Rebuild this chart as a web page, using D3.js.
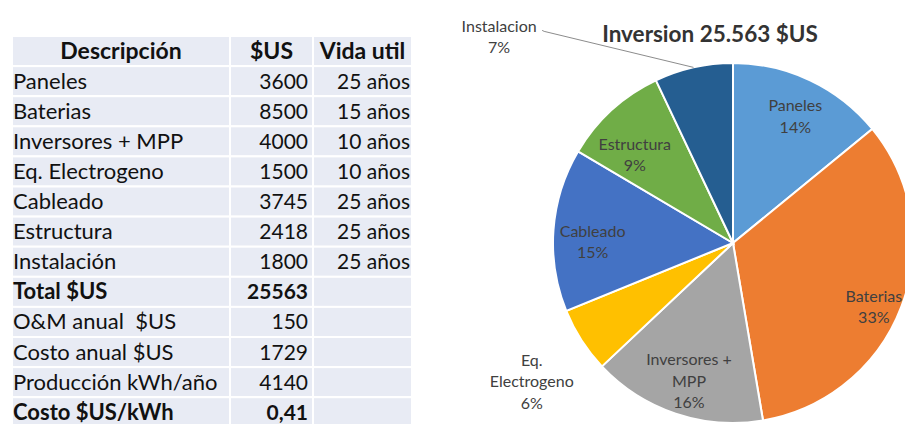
<!DOCTYPE html>
<html>
<head>
<meta charset="utf-8">
<script src="https://cdn.jsdelivr.net/npm/d3@7"></script>
<style>
  body { margin: 0; background: #fff; }
  svg { display: block; font-family: Lato, "Open Sans", sans-serif; }
</style>
</head>
<body>
<svg id="chart" width="905" height="424"></svg>
<script>
// table data
var headers = ['Descripción', '$US', 'Vida util'];
var rowLabels = ['Paneles', 'Baterias', 'Inversores + MPP', 'Eq. Electrogeno', 'Cableado', 'Estructura', 'Instalación',
  'Total $US', 'O&M anual  $US', 'Costo anual $US', 'Producción kWh/año', 'Costo $US/kWh'];
var rowValues = ['3600', '8500', '4000', '1500', '3745', '2418', '1800', '25563', '150', '1729', '4140', '0,41'];
var rowLife = ['25 años', '15 años', '10 años', '10 años', '25 años', '25 años', '25 años', '', '', '', '', ''];
var boldRows = ['Total $US', 'Costo $US/kWh'];

// pie data
var pieTitle = 'Inversion 25.563 $US';
var sliceNames = ['Paneles', 'Baterias', 'Inversores + MPP', 'Eq. Electrogeno', 'Cableado', 'Estructura', 'Instalacion'];
var sliceValues = [3600, 8500, 4000, 1500, 3745, 2418, 1800];
var sliceLabels = [['Paneles', '14%'], ['Baterias', '33%'], ['Inversores +', 'MPP', '16%'], ['Eq.', 'Electrogeno', '6%'],
  ['Cableado', '15%'], ['Estructura', '9%'], ['Instalacion', '7%']];
var sliceColors = ['#5b9bd5', '#ed7d31', '#a5a5a5', '#ffc000', '#4472c4', '#70ad47', '#255e91'];

var svg = d3.select('#chart');

//------------------------------------------------
// table
var cols = [{x0: 12, x1: 230}, {x0: 230, x1: 313}, {x0: 313, x1: 412}];
var tableTop = 36, rowH = 30.1;
var nRows = rowLabels.length + 1;

var y = d3.scaleLinear().domain([0, nRows]).range([tableTop, tableTop + nRows * rowH]);

var table = svg.append('g');
d3.range(nRows).forEach(function(i) {
  cols.forEach(function(c) {
    table.append('rect')
      .attr('x', c.x0).attr('y', y(i))
      .attr('width', c.x1 - c.x0).attr('height', rowH)
      .attr('fill', '#e8ebf4').attr('stroke', '#fff').attr('stroke-width', 2);
  });
});

var fs = 22, fsNum = 21;
headers.forEach(function(h, j) {
  table.append('text')
    .attr('x', (cols[j].x0 + cols[j].x1) / 2).attr('y', y(0) + rowH / 2 + 7.5)
    .attr('text-anchor', 'middle').attr('font-weight', 'bold')
    .attr('font-size', 23).attr('fill', '#111').text(h);
});

rowLabels.forEach(function(lbl, i) {
  var yy = y(i + 1) + rowH / 2 + 7.5;
  var bold = boldRows.indexOf(lbl) >= 0 ? 'bold' : 'normal';
  table.append('text').attr('x', cols[0].x0 + 1).attr('y', yy)
    .attr('font-size', fs).attr('font-weight', bold).attr('fill', '#111')
    .style('white-space', 'pre').text(lbl);
  table.append('text').attr('x', cols[1].x1 - 5).attr('y', yy)
    .attr('text-anchor', 'end')
    .attr('font-size', fsNum).attr('font-weight', bold).attr('fill', '#111').text(rowValues[i]);
  table.append('text').attr('x', cols[2].x1 - 2).attr('y', yy)
    .attr('text-anchor', 'end')
    .attr('font-size', fsNum).attr('fill', '#111').text(rowLife[i]);
});

//------------------------------------------------
// pie
var cx = 733, cy = 243, R = 180;
// label placement: radius fraction and angle nudge (deg), per slice
var labelPos = [[0.78, 1], [0.86, 4], [0.81, -1], [1.36, -2], [0.78, -4], [0.73, -6], [1.73, -36]];

var pie = d3.pie().sort(null).value(function(d) { return d; });
var arcs = pie(sliceValues);
var arc = d3.arc().innerRadius(0).outerRadius(R);

var g = svg.append('g').attr('transform', 'translate(' + cx + ',' + cy + ')');
g.selectAll('path').data(arcs).enter().append('path')
  .attr('d', arc)
  .attr('fill', function(d, i) { return sliceColors[i]; })
  .attr('stroke', '#fff').attr('stroke-width', 2);

function polar(r, a) {
  return [r * Math.sin(a), -r * Math.cos(a)];
}

arcs.forEach(function(d, i) {
  var mid = (d.startAngle + d.endAngle) / 2;
  var a = mid + labelPos[i][1] * Math.PI / 180;
  var p = polar(R * labelPos[i][0], a);
  var lines = sliceLabels[i];
  var lh = 21.5;
  var t = g.append('text')
    .attr('text-anchor', 'middle')
    .attr('font-size', 16).attr('fill', '#404040');
  lines.forEach(function(s, k) {
    t.append('tspan').attr('x', p[0])
      .attr('y', p[1] + (k - (lines.length - 1) / 2) * lh + 5)
      .text(s);
  });
  if (labelPos[i][0] > 1.5) {
    // leader line from label to slice edge
    var e = polar(R, mid);
    g.append('path')
      .attr('d', 'M' + (p[0] + 43) + ',' + (p[1] - 7) + 'L' + (p[0] + 45) + ',' + (p[1] - 6) + 'L' + e[0] + ',' + e[1])
      .attr('fill', 'none').attr('stroke', '#8c8c8c').attr('stroke-width', 1);
  }
});

svg.append('text')
  .attr('x', 710).attr('y', 42)
  .attr('text-anchor', 'middle').attr('font-weight', 'bold')
  .attr('font-size', 22.5).attr('fill', '#333')
  .text(pieTitle);
</script>
</body>
</html>
